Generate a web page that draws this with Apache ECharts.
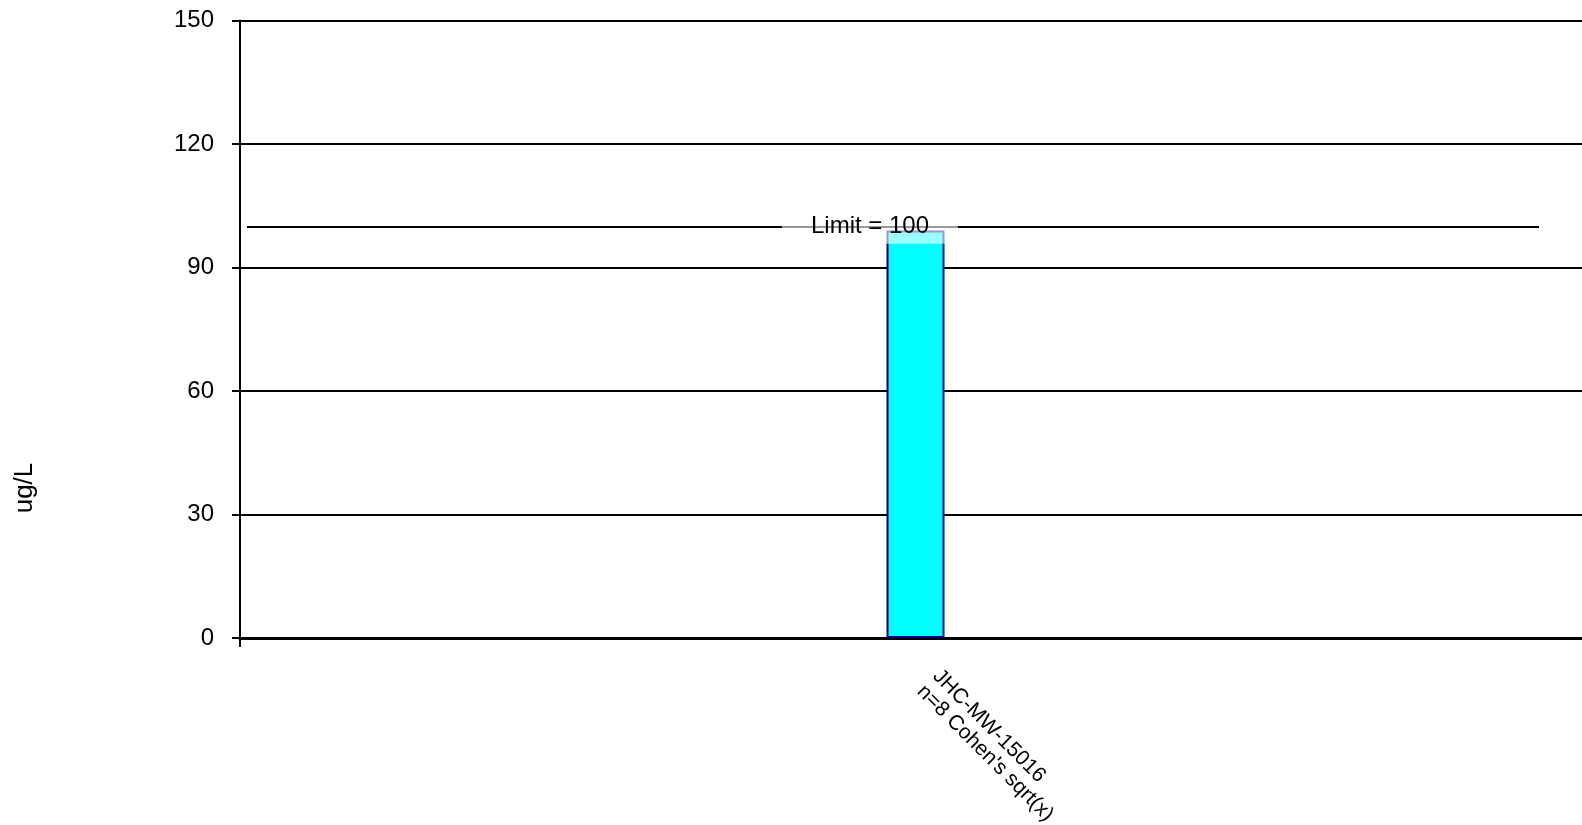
<!DOCTYPE html>
<html>
<head>
<meta charset="utf-8">
<script src="https://cdn.jsdelivr.net/npm/echarts@6/dist/echarts.min.js"></script>
<style>
html,body{margin:0;padding:0;background:#fff;}
#chart{width:1582px;height:825px;}
</style>
</head>
<body>
<div id="chart"></div>
<script>
const categories = ["JHC-MW-15016\nn=8 Cohen's sqrt(x)"];
const values = [99];
const limitValue = 100;
const limitLabel = "Limit = 100";
const yAxisName = "ug/L";
const yMin = 0, yMax = 150, yInterval = 30;

const FONT = "'Liberation Sans', Arial, sans-serif";
const chart = echarts.init(document.getElementById('chart'), null, {renderer: 'canvas'});
chart.setOption({
  animation: false,
  backgroundColor: '#ffffff',
  grid: {left: 240, width: 1351, top: 20.5, height: 617.5, containLabel: false, outerBoundsMode: 'none'},
  graphic: [{
    type: 'text',
    x: 25, y: 488,
    rotation: Math.PI / 2,
    style: {text: yAxisName, font: "26px " + FONT, fill: '#000', align: 'center', verticalAlign: 'middle'}
  }],
  xAxis: {
    type: 'category',
    data: categories,
    boundaryGap: true,
    axisLine: {show: true, lineStyle: {color: '#000', width: 3}},
    axisTick: {show: true, length: 9, lineStyle: {color: '#000', width: 2}},
    axisLabel: {rotate: -45, margin: 30, fontSize: 21, fontFamily: FONT, color: '#000', lineHeight: 22, align: 'left', padding: [0, 0, 0, 18]},
    splitLine: {show: false}
  },
  yAxis: {
    type: 'value',
    min: yMin, max: yMax, interval: yInterval,
    axisLine: {show: true, lineStyle: {color: '#000', width: 2}},
    axisTick: {show: true, length: 8, lineStyle: {color: '#000', width: 2}},
    axisLabel: {margin: 26, fontSize: 24, fontFamily: FONT, color: '#000'},
    splitLine: {show: true, lineStyle: {color: '#000', width: 2}}
  },
  series: [{
    type: 'bar',
    data: values,
    barWidth: 58,
    itemStyle: {color: '#00ffff', borderColor: '#000080', borderWidth: 2},
    markLine: {
      silent: true,
      symbol: ['none', 'none'],
      z: 5,
      lineStyle: {color: '#000', width: 2, type: 'solid'},
      label: {
        show: true,
        position: 'insideMiddle',
        distance: 0,
        formatter: limitLabel,
        fontSize: 24, fontFamily: FONT, color: '#000',
        lineHeight: 24,
        backgroundColor: 'rgba(255,255,255,0.6)',
        padding: [5, 29, 6, 29],
        offset: [-23, 0]
      },
      data: [[{x: 247, yAxis: limitValue}, {x: 1539, yAxis: limitValue}]]
    }
  }]
});
</script>
</body>
</html>
